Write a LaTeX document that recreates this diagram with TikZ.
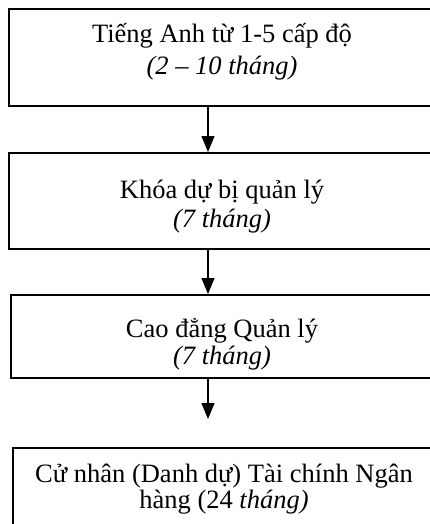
\documentclass[tikz,border=0pt]{standalone}
\usepackage{fontspec}
\setmainfont{Liberation Serif}
\usetikzlibrary{arrows.meta}
\begin{document}
\begin{tikzpicture}[x=1pt,y=-1pt,
  box/.style={draw=black,line width=1.7pt,rectangle,inner sep=0pt,anchor=north west,minimum width=430pt},
  txt/.style={anchor=base,inner sep=0pt,font=\fontsize{26.5}{30}\selectfont},
  conn/.style={line width=1.3pt,-{Triangle[length=16pt,width=13pt]}}]
\useasboundingbox (0,0) rectangle (430,524);
\clip (0,0) rectangle (430,524);
\fill[white] (0,0) rectangle (430,524);
\node[box,minimum height=97pt] (b1) at (8,8) {};
\node[box,minimum height=96pt] (b2) at (8,152) {};
\node[box,minimum height=83pt] (b3) at (10,294) {};
\node[box,minimum height=120pt] (b4) at (12,447) {};
\node[txt] (t1a) at (222,43) {Tiếng Anh từ 1-5 cấp độ};
\node[txt] (t1b) at (222,75) {\itshape (2 – 10 tháng)};
\node[txt] (t2a) at (222,198) {Khóa dự bị quản lý};
\node[txt] (t2b) at (222,227) {\itshape (7 tháng)};
\node[txt] (t3a) at (222,337) {Cao đẳng Quản lý};
\node[txt] (t3b) at (222,364) {\itshape (7 tháng)};
\node[txt] (t4a) at (224,482) {Cử nhân (Danh dự) Tài chính Ngân};
\node[txt] (t4b) at (224,508) {hàng (24 \textit{tháng)}};
\coordinate (ax) at (208,0);
\coordinate (e3) at (208,419);
\draw[conn] (b1.south -| ax) -- (b2.north -| ax);
\draw[conn] (b2.south -| ax) -- (b3.north -| ax);
\draw[conn] (b3.south -| ax) -- (e3);
\end{tikzpicture}
\end{document}
